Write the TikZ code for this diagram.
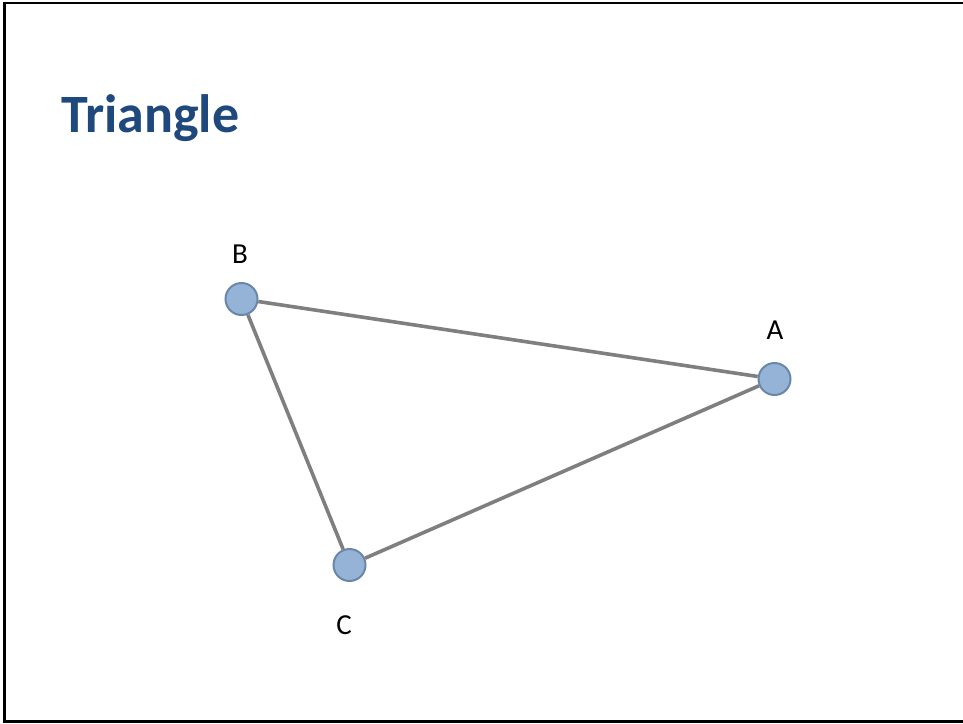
\documentclass[tikz,border=0pt]{standalone}
\usepackage{fontspec}
\setmainfont{Carlito}
\definecolor{titleblue}{HTML}{1F497D}
\definecolor{nodefill}{HTML}{95B3D7}
\definecolor{nodeedge}{HTML}{6A86A8}
\definecolor{edgegray}{HTML}{7F7F7F}
\begin{document}
\begin{tikzpicture}[x=1pt,y=-1pt,
  vertex/.style={circle,draw=nodeedge,fill=nodefill,line width=2pt,minimum size=32pt,inner sep=0pt},
  vlabel/.style={anchor=base,inner sep=0pt,font=\fontsize{29}{34}\selectfont},
  link/.style={draw=edgegray,line width=3.6pt}]
\useasboundingbox (0,0) rectangle (963,723);
\draw[line width=2.5pt] (963,3) -- (4.5,3) -- (4.5,721.5) -- (963,721.5);
\node[anchor=base west,inner sep=0pt,text=titleblue,font=\bfseries\fontsize{54}{62}\selectfont] (title) at (61,132) {Triangle};
\node[vertex] (A) at (774.5,379) {};
\node[vertex] (B) at (241.5,299) {};
\node[vertex] (C) at (349.5,565) {};
\draw[link] (B) -- (A);
\draw[link] (A) -- (C);
\draw[link] (C) -- (B);
\node[vlabel] (la) at (775,339) {A};
\node[vlabel] (lb) at (240,263) {B};
\node[vlabel] (lc) at (344,634) {C};
\end{tikzpicture}
\end{document}
